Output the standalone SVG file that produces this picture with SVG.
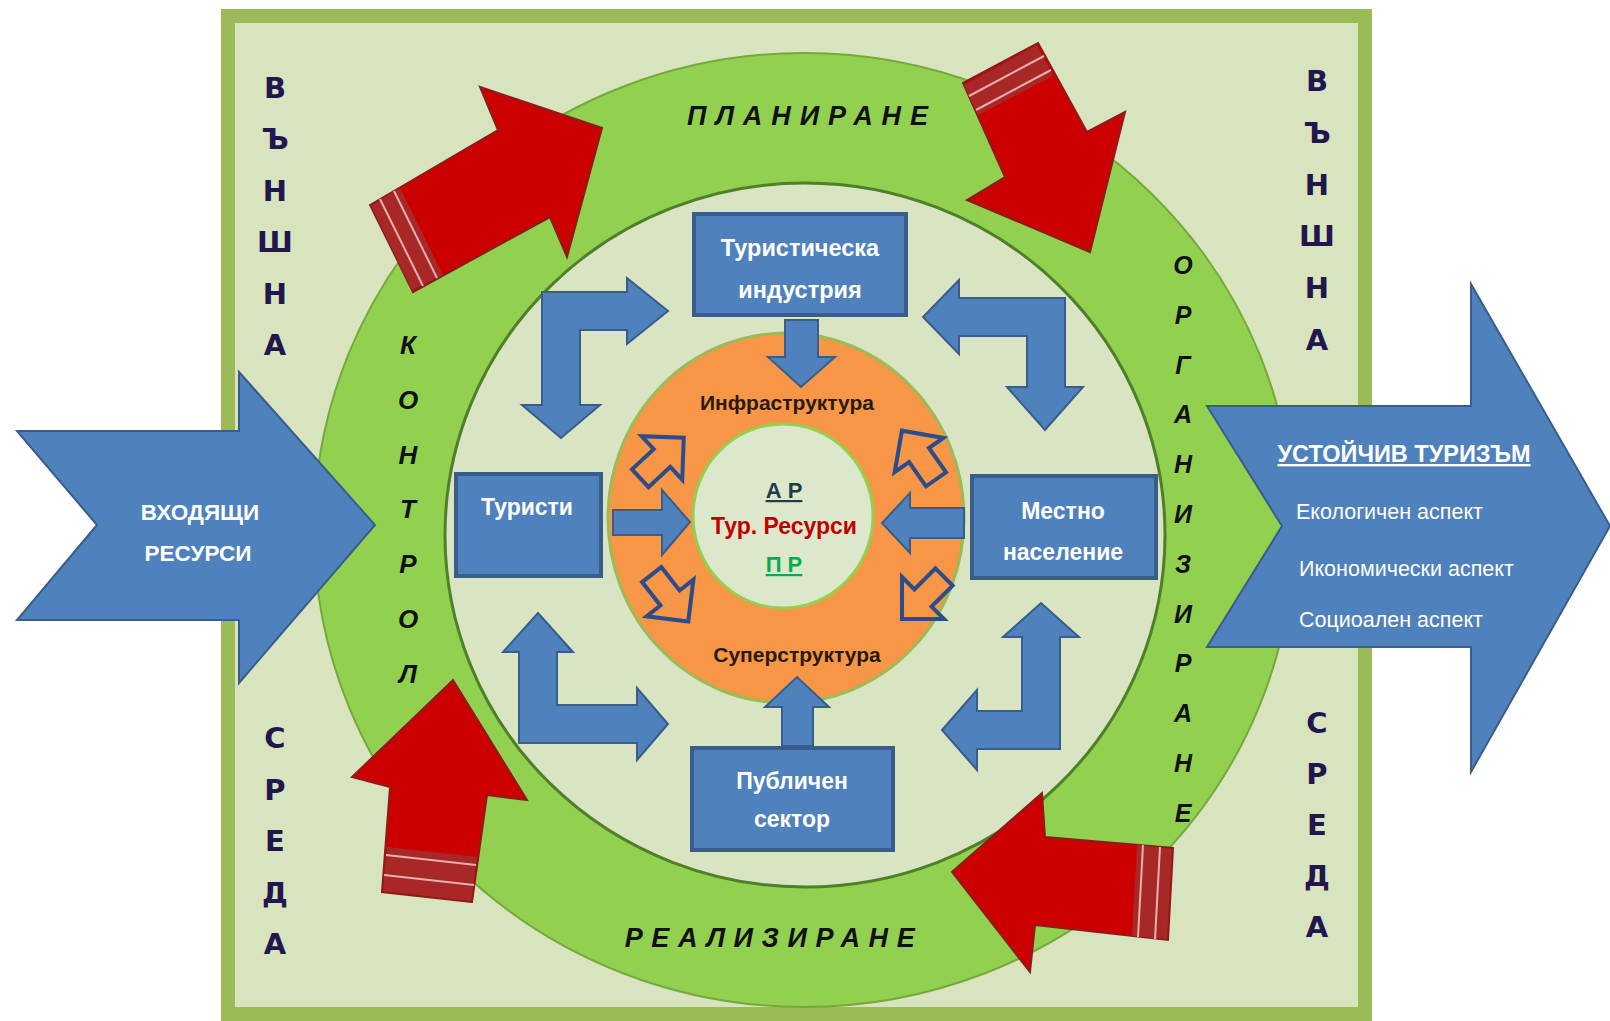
<svg xmlns="http://www.w3.org/2000/svg" width="1610" height="1021" viewBox="0 0 1610 1021">
<defs>
<style>
.frame{fill:#d7e4bd;stroke:#9bbb59;stroke-width:14}
.ring{fill:#92d050;stroke:#76a83c;stroke-width:2}
.ringin{fill:#d9e4c3;stroke:#4f7f28;stroke-width:3}
.orange{fill:#f79646;stroke:#9bbb59;stroke-width:3}
.core{fill:#dde7cb;stroke:#92d050;stroke-width:3}
.box{fill:#4f81bd;stroke:#385d8a;stroke-width:4}
.barrow{fill:#4f81bd;stroke:#385d8a;stroke-width:2}
.oarrow{fill:none;stroke:#2c4d8a;stroke-width:3;stroke-linejoin:miter}
.red{fill:#cc0000;stroke:#8a1c1c;stroke-width:2;stroke-linejoin:miter}
.band{fill:#a82828;stroke:none}
.stripe{stroke:#e6b0ae;stroke-width:2}
.t{font-family:"Liberation Sans",Arial,sans-serif}
.wb{fill:#ffffff;font-weight:bold;text-anchor:middle}
.env{font-family:"DejaVu Sans","Liberation Sans",sans-serif;font-weight:bold;font-size:29px;fill:#21164d;text-anchor:middle}
.proc{font-family:"Liberation Sans",Arial,sans-serif;font-weight:bold;font-style:italic;fill:#111111;text-anchor:middle}
</style>
<polygon id="oa" points="-22,-9 0,-9 0,-22 22,0 0,22 0,9 -22,9"/>
</defs>

<g id="frame">
<rect class="frame" x="228" y="16" width="1137" height="998"/>
</g>

<g id="cycle-ring">
<ellipse class="ring" cx="804" cy="530" rx="490" ry="477"/>
<ellipse class="ringin" cx="805" cy="535" rx="360" ry="352"/>
</g>

<g id="env-left">
<text class="env"><tspan x="275" y="98">В</tspan><tspan x="275" dy="51.4">Ъ</tspan><tspan x="275" dy="51.4">Н</tspan><tspan x="275" dy="51.4">Ш</tspan><tspan x="275" dy="51.4">Н</tspan><tspan x="275" dy="51.4">А</tspan></text>
<text class="env"><tspan x="275" y="748">С</tspan><tspan x="275" dy="51.5">Р</tspan><tspan x="275" dy="51.5">Е</tspan><tspan x="275" dy="51.5">Д</tspan><tspan x="275" dy="51.5">А</tspan></text>
</g>
<g id="env-right">
<text class="env"><tspan x="1317" y="91">В</tspan><tspan x="1317" dy="51.8">Ъ</tspan><tspan x="1317" dy="51.8">Н</tspan><tspan x="1317" dy="51.8">Ш</tspan><tspan x="1317" dy="51.8">Н</tspan><tspan x="1317" dy="51.8">А</tspan></text>
<text class="env"><tspan x="1317" y="733">С</tspan><tspan x="1317" dy="51">Р</tspan><tspan x="1317" dy="51">Е</tspan><tspan x="1317" dy="51">Д</tspan><tspan x="1317" dy="51">А</tspan></text>
</g>

<g id="stage-labels">
<text class="proc" x="812" y="125" font-size="27" letter-spacing="8.9">ПЛАНИРАНЕ</text>
<text class="proc" x="774" y="947" font-size="27" letter-spacing="8.6">РЕАЛИЗИРАНЕ</text>
<text class="proc" font-size="26"><tspan x="408" y="354">К</tspan><tspan x="408" dy="54.8">О</tspan><tspan x="408" dy="54.8">Н</tspan><tspan x="408" dy="54.8">Т</tspan><tspan x="408" dy="54.8">Р</tspan><tspan x="408" dy="54.8">О</tspan><tspan x="408" dy="54.8">Л</tspan></text>
<text class="proc" font-size="25"><tspan x="1183" y="274">О</tspan><tspan x="1183" dy="49.8">Р</tspan><tspan x="1183" dy="49.8">Г</tspan><tspan x="1183" dy="49.8">А</tspan><tspan x="1183" dy="49.8">Н</tspan><tspan x="1183" dy="49.8">И</tspan><tspan x="1183" dy="49.8">З</tspan><tspan x="1183" dy="49.8">И</tspan><tspan x="1183" dy="49.8">Р</tspan><tspan x="1183" dy="49.8">А</tspan><tspan x="1183" dy="49.8">Н</tspan><tspan x="1183" dy="49.8">Е</tspan></text>
</g>

<g id="center-rings">
<ellipse class="orange" cx="786" cy="518" rx="178" ry="185"/>
<ellipse class="core" cx="783" cy="516" rx="90" ry="92"/>
<text class="t" x="787" y="410" font-size="21" font-weight="bold" fill="#2a1a0e" text-anchor="middle">Инфраструктура</text>
<text class="t" x="797" y="662" font-size="21" font-weight="bold" fill="#2a1a0e" text-anchor="middle">Суперструктура</text>
<text class="t" x="784" y="498" font-size="22" font-weight="bold" fill="#1f3b4d" text-anchor="middle" text-decoration="underline">А Р</text>
<text class="t" x="784" y="534" font-size="23" font-weight="bold" fill="#c00000" text-anchor="middle">Тур. Ресурси</text>
<text class="t" x="784" y="572" font-size="22" font-weight="bold" fill="#00b050" text-anchor="middle" text-decoration="underline">П Р</text>
</g>

<g id="connectors">
<g id="red-plan">
<polygon class="red" points="370,205 498,130 480,87 602,128 567,257 550,217 413,292"/>
<polygon class="band" points="371,206 400,188 443,275 412,290"/>
<line class="stripe" x1="380" y1="199" x2="423" y2="286"/>
<line class="stripe" x1="394" y1="191" x2="437" y2="278"/>
</g>
<g id="red-org">
<polygon class="red" points="1038,43 1087,132 1125,112 1090,252 967,200 1005,177 963,83"/>
<polygon class="band" points="1037,45 1053,76 978,115 964,85"/>
<line class="stripe" x1="1044" y1="56" x2="969" y2="96"/>
<line class="stripe" x1="1051" y1="70" x2="976" y2="110"/>
</g>
<g id="red-real">
<polygon class="red" points="1173,848 1168,940 1035,925 1030,972 952,872 1042,793 1045,837"/>
<polygon class="band" points="1172,849 1137,845 1132,936 1167,939"/>
<line class="stripe" x1="1160" y1="847" x2="1155" y2="939"/>
<line class="stripe" x1="1143" y1="845" x2="1138" y2="937"/>
</g>
<g id="red-ctrl">
<polygon class="red" points="472,902 382,892 390,787 352,777 453,680 527,800 487,795"/>
<polygon class="band" points="471,901 477,857 387,847 383,891"/>
<line class="stripe" x1="474" y1="885" x2="384" y2="875"/>
<line class="stripe" x1="476" y1="865" x2="386" y2="855"/>
</g>

<polygon class="barrow" points="542,292 627,292 627,278 668,311 627,344 627,330 580,330 580,405 600,405 561,438 522,405 542,405"/>
<polygon class="barrow" points="1065,298 1065,387 1083,387 1045,430 1007,387 1027,387 1027,336 959,336 959,354 923,317 959,280 959,298"/>
<polygon class="barrow" points="519,743 519,652 503,652 538,613 573,652 557,652 557,705 637,705 637,688 668,724 637,760 637,743"/>
<polygon class="barrow" points="1060,749 977,749 977,770 942,730 977,690 977,711 1022,711 1022,637 1003,637 1041,603 1079,637 1060,637"/>

<polygon class="barrow" points="785,320 818,320 818,357 835,357 801,387 768,357 785,357"/>
<polygon class="barrow" points="782,746 782,707 765,707 797,677 829,707 813,707 813,746"/>
<polygon class="barrow" points="613,510 662,510 662,490 690,522 662,555 662,535 613,535"/>
<polygon class="barrow" points="964,508 910,508 910,493 882,523 910,553 910,538 964,538"/>

<use href="#oa" class="oarrow" transform="translate(662,458) rotate(-43) scale(1.35)"/>
<use href="#oa" class="oarrow" transform="translate(919,455) rotate(-125) scale(1.35)"/>
<use href="#oa" class="oarrow" transform="translate(670,598) rotate(52) scale(1.35)"/>
<use href="#oa" class="oarrow" transform="translate(923,598) rotate(135) scale(1.35)"/>
</g>

<g id="node-industry">
<rect class="box" x="694" y="214" width="212" height="101"/>
<text class="t wb" x="800" y="256" font-size="23.5">Туристическа</text>
<text class="t wb" x="800" y="298" font-size="23.5">индустрия</text>
</g>
<g id="node-tourists">
<rect class="box" x="456" y="474" width="145" height="102"/>
<text class="t wb" x="527" y="515" font-size="23">Туристи</text>
</g>
<g id="node-locals">
<rect class="box" x="972" y="476" width="184" height="102"/>
<text class="t wb" x="1063" y="519" font-size="23">Местно</text>
<text class="t wb" x="1063" y="560" font-size="23">население</text>
</g>
<g id="node-public">
<rect class="box" x="692" y="748" width="201" height="102"/>
<text class="t wb" x="792" y="789" font-size="23">Публичен</text>
<text class="t wb" x="792" y="827" font-size="23">сектор</text>
</g>

<g id="node-input">
<polygon class="barrow" points="17,431 239,431 239,372 375,525 239,683 239,620 17,620 97,525"/>
<text class="t wb" x="200" y="520" font-size="22.5">ВХОДЯЩИ</text>
<text class="t wb" x="198" y="561" font-size="22.5">РЕСУРСИ</text>
</g>

<g id="node-output">
<polygon class="barrow" points="1207,406 1471,406 1471,284 1610,526 1471,772 1471,647 1207,647 1282,526"/>
<text class="t wb" x="1404" y="462" font-size="23.5" text-decoration="underline">УСТОЙЧИВ ТУРИЗЪМ</text>
<text class="t" x="1296" y="519" font-size="21.5" fill="#ffffff">Екологичен аспект</text>
<text class="t" x="1299" y="576" font-size="21.5" fill="#ffffff">Икономически аспект</text>
<text class="t" x="1299" y="627" font-size="21.5" fill="#ffffff">Социоален аспект</text>
</g>
</svg>
